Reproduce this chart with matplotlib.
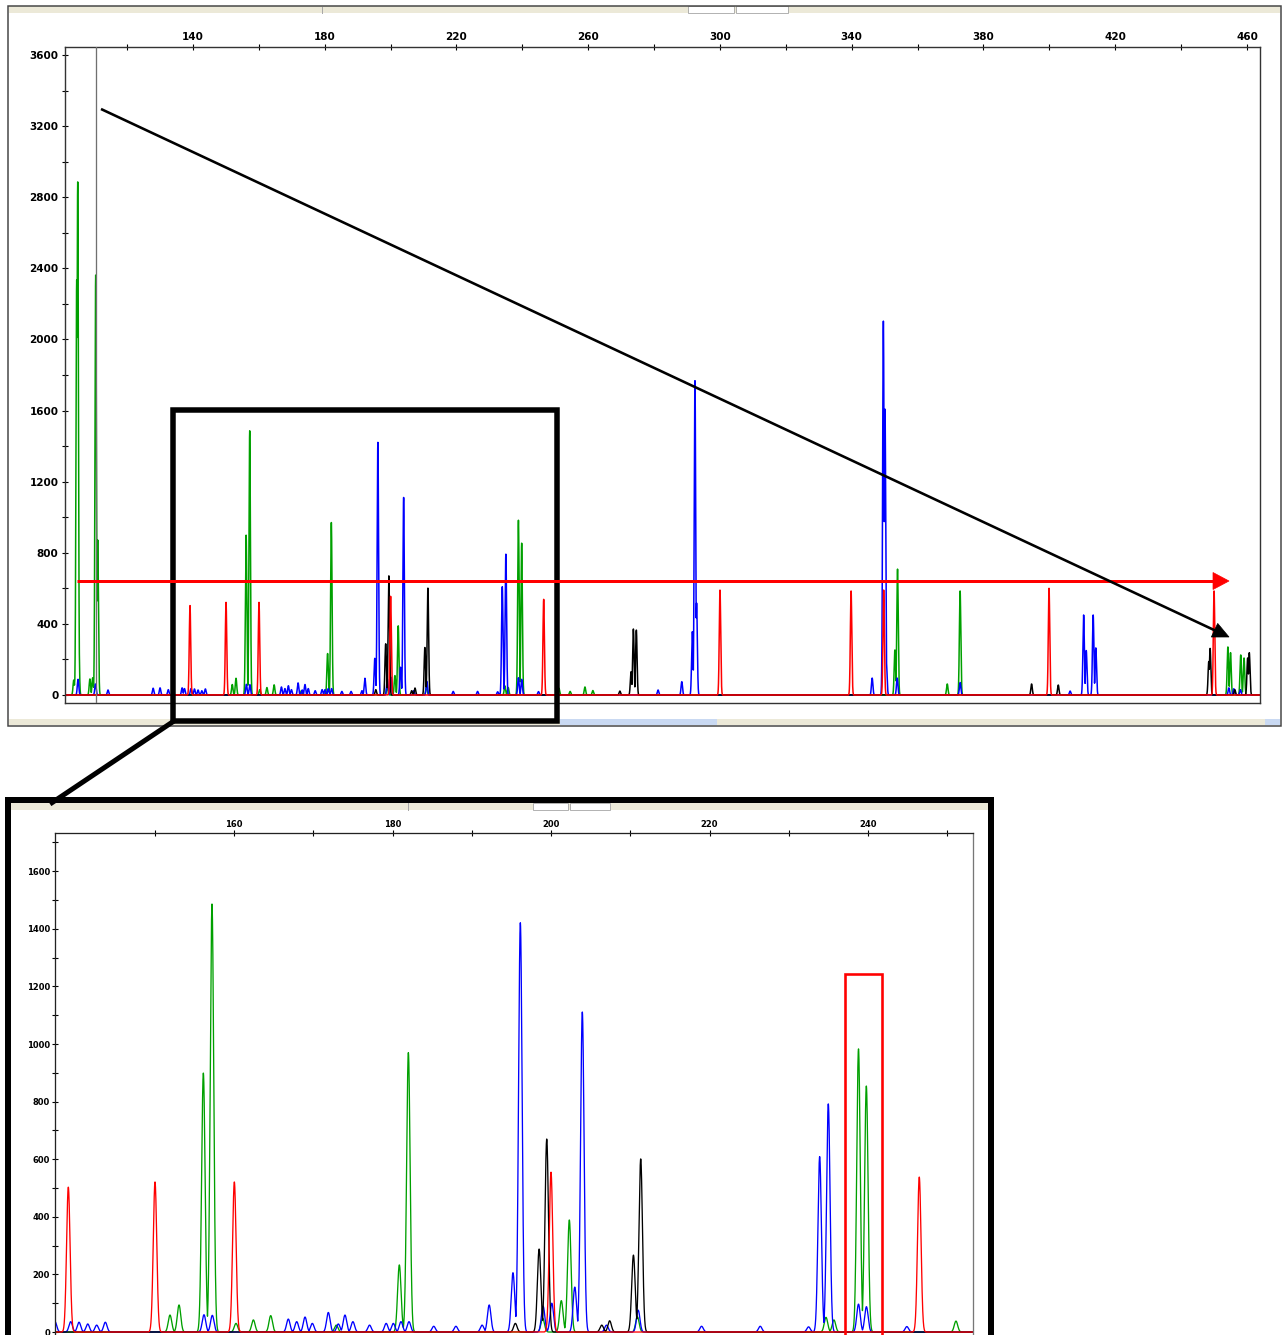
import numpy as np
import matplotlib
matplotlib.use("Agg")
import matplotlib.pyplot as plt
from matplotlib.lines import Line2D
from matplotlib.patches import Rectangle, Polygon

# ------------------------------------------------------------------ data
# Peak tables: fragment size (bp), height (RFU)
blue_bp = [105.1, 110.4, 114.2, 127.9, 130.0, 132.5, 136.7,
           137.41, 139.39, 140.44, 141.54, 142.67, 143.76,
           156.21, 157.26, 166.85, 167.91, 168.96, 169.88, 171.9, 173.16,
           174.0, 175.0, 177.1, 179.2, 180.1, 181.07, 182.08, 185.2, 188.0,
           191.3, 192.2, 195.2, 196.13, 199.0, 200.1, 203.0, 203.95, 207.0, 211.0,
           219.0, 226.4, 232.5, 233.9, 234.99, 238.8, 239.8, 244.9,
           281.2, 288.4, 291.6, 292.4, 292.9,
           346.2, 349.6, 350.1, 350.5, 353.8, 372.9, 406.3,
           410.4, 411.2, 413.3, 414.1, 454.5, 456.0, 458.0]
blue_rfu = [88, 62, 28, 38, 40, 30, 40,
            36, 36, 34, 28, 24, 34,
            60, 58, 45, 36, 52, 30, 68, 28,
            59, 36, 24, 30, 30, 36, 36, 20, 20,
            24, 94, 206, 1421, 90, 100, 156, 1111, 24, 76,
            20, 20, 18, 609, 792, 97, 88, 19,
            28, 75, 356, 1768, 517,
            95, 2103, 1608, 188, 95, 70, 22,
            450, 250, 450, 265, 40, 35, 30]

green_bp = [103.8, 104.2, 104.69, 105.0, 105.2, 108.7, 109.55, 110.46, 111.07,
            151.92, 153.06, 156.13, 157.22, 160.25, 162.44, 164.63,
            172.9, 180.86, 182.0, 198.95, 201.3, 202.31, 210.9,
            234.7, 235.7, 238.8, 239.79, 251.1,
            254.5, 259.0, 261.4,
            353.1, 353.9, 369.0, 372.9,
            454.2, 455.0, 458.1, 459.1]
green_rfu = [84, 84, 2334, 2886, 591, 90, 97, 2362, 872,
             59, 94, 899, 1486, 30, 42, 57,
             24, 233, 970, 48, 109, 389, 53,
             51, 42, 983, 854, 38,
             20, 45, 25,
             253, 708, 62, 585,
             270, 238, 225, 208]

black_bp = [195.5, 198.5, 199.46, 206.4, 207.4, 210.4, 211.32,
            269.6, 273.0, 273.7, 274.6,
            394.6, 402.7, 448.4, 448.8, 456.3, 460.2, 460.7]
black_rfu = [30, 288, 670, 24, 39, 267, 601,
             22, 131, 371, 365,
             62, 56, 188, 262, 30, 208, 238]

red_bp = [139.09, 150.03, 160.04, 200.0, 246.47, 300.0, 339.8, 349.7, 399.9, 450.0]
red_rfu = [503, 521, 521, 555, 538, 590, 585, 590, 600, 585]

# axis ticks / labels
top_xticks = [120, 140, 160, 180, 200, 220, 240, 260, 280, 300, 320, 340,
              360, 380, 400, 420, 440, 460]
top_xticklabels = ["", "140", "", "180", "", "220", "", "260", "", "300", "",
                   "340", "", "380", "", "420", "", "460"]
top_yticks = [0, 200, 400, 600, 800, 1000, 1200, 1400, 1600, 1800, 2000,
              2200, 2400, 2600, 2800, 3000, 3200, 3400, 3600]
top_yticklabels = ["0", "", "400", "", "800", "", "1200", "", "1600", "",
                   "2000", "", "2400", "", "2800", "", "3200", "", "3600"]
zoom_xticks = [150, 160, 170, 180, 190, 200, 210, 220, 230, 240, 250]
zoom_xticklabels = ["", "160", "", "180", "", "200", "", "220", "", "240", ""]
zoom_yticks = [0, 100, 200, 300, 400, 500, 600, 700, 800, 900, 1000, 1100,
               1200, 1300, 1400, 1500, 1600, 1700]
zoom_yticklabels = ["0", "", "200", "", "400", "", "600", "", "800", "",
                    "1000", "", "1200", "", "1400", "", "1600", ""]

cursor_bp = 110.7          # grey cursor line in the overview
box_bp = [237.14, 241.73]  # red highlight box in the zoom
box_rfu = 1243

# ------------------------------------------------------------------ helpers
W, H = 1282, 1335
fig = plt.figure(figsize=(W / 100, H / 100), dpi=100)
fig.patch.set_facecolor("white")


def fx(px):
    return px / W


def fy(py):
    return 1 - py / H


def pt(px):
    return px * 72 / 100


def trace(bp, rfu, x, sigma=0.22):
    y = np.zeros_like(x)
    for p, h in zip(bp, rfu):
        y = np.maximum(y, h * np.exp(-0.5 * ((x - p) / sigma) ** 2))
    return y


x = np.arange(100.0, 465.0, 0.01)
series = [("#00A000", green_bp, green_rfu),
          ("#0000FF", blue_bp, blue_rfu),
          ("#000000", black_bp, black_rfu),
          ("#FF0000", red_bp, red_rfu)]

TICKFONT = dict(fontweight="bold", family="DejaVu Sans")


def style_axes(ax, xt, xtl, yt, ytl, fs, xpad, ypad, tlen):
    ax.xaxis.set_ticks_position("top")
    ax.set_xticks(xt)
    ax.set_xticklabels(xtl, fontsize=fs, **TICKFONT)
    ax.set_yticks(yt)
    ax.set_yticklabels(ytl, fontsize=fs, **TICKFONT)
    ax.tick_params(axis="x", direction="inout", length=pt(tlen), width=pt(1.1),
                   pad=pt(xpad), top=True, bottom=False, labeltop=True,
                   labelbottom=False)
    ax.tick_params(axis="y", direction="inout", length=pt(tlen), width=pt(1.1),
                   pad=pt(ypad), left=True, right=False)


# ------------------------------------------------------------------ overview
ax1 = fig.add_axes([fx(65), fy(703), fx(1260) - fx(65), fy(47) - fy(703)])
ax1.set_xlim(101.14, 463.95)
ax1.set_ylim(-45, 3645)
for c, bp, rfu in series:
    ax1.plot(x, trace(bp, rfu, x), color=c, lw=1.1)
ax1.axvline(cursor_bp, color="#707070", lw=pt(1.3), zorder=5)
style_axes(ax1, top_xticks, top_xticklabels, top_yticks, top_yticklabels,
           7.5, 2.2, 3.5, 6)
for s in ax1.spines.values():
    s.set_color("#333333")
    s.set_linewidth(pt(1.4))

# ------------------------------------------------------------------ zoom
ax2 = fig.add_axes([fx(55), fy(1337.8), fx(973) - fx(55), fy(833) - fy(1337.8)])
ax2.set_xlim(137.41, 253.25)
ax2.set_ylim(-20, 1732.6)
for c, bp, rfu in series:
    ax2.plot(x, trace(bp, rfu, x), color=c, lw=0.95)
ax2.add_patch(Rectangle((box_bp[0], -20), box_bp[1] - box_bp[0], box_rfu + 20,
                        fill=False, ec="#FF0000", lw=pt(2.6), zorder=6))
style_axes(ax2, zoom_xticks, zoom_xticklabels, zoom_yticks, zoom_yticklabels,
           6.0, 1.2, 1.8, 6)
for name, s in ax2.spines.items():
    s.set_linewidth(pt(1.3))
    s.set_color("#222222" if name in ("left", "top") else "#777777")

# ------------------------------------------------------------------ decoration


def fline(pts, color, lw_px, **kw):
    fig.add_artist(Line2D([fx(p[0]) for p in pts], [fy(p[1]) for p in pts],
                          color=color, lw=pt(lw_px), transform=fig.transFigure,
                          **kw))


def frect(x0, y0, x1, y1, ec="none", fc="none", lw_px=1.0, z=1):
    fig.add_artist(Rectangle((fx(x0), fy(y1)), fx(x1) - fx(x0), fy(y0) - fy(y1),
                             transform=fig.transFigure, ec=ec, fc=fc,
                             lw=pt(lw_px), zorder=z))


def farrow(p0, p1, color, lw_px, head_len, head_w):
    p0 = np.array(p0, float)
    p1 = np.array(p1, float)
    d = p1 - p0
    u = d / np.hypot(*d)
    n = np.array([-u[1], u[0]])
    base = p1 - u * head_len
    fline([p0, base + u * 2], color, lw_px, solid_capstyle="butt", zorder=3)
    tri = [p1, base + n * head_w / 2, base - n * head_w / 2]
    fig.add_artist(Polygon([(fx(a), fy(b)) for a, b in tri], closed=True,
                           transform=fig.transFigure, fc=color, ec=color,
                           lw=0.5, zorder=3))


# overview window: frame, title strip, scroll strip
frect(8.5, 6.5, 1279.5, 12.5, fc="#ECE9D8", z=1)
frect(688, 6.5, 734, 12.5, fc="white", ec="#A0A0A0", lw_px=0.8, z=1)
frect(735.5, 6.5, 788, 12.5, fc="white", ec="#A0A0A0", lw_px=0.8, z=1)
fline([(322, 6.5), (322, 12.5)], "#A8A8A8", 1)
frect(8.5, 718.5, 1279.5, 724.5, fc="#ECE9D8", z=1)
frect(560, 718.5, 717, 724.5, fc="#C9D9F2", z=1)
frect(1265, 718.5, 1279.5, 724.5, fc="#C9D9F2", z=1)
frect(7.5, 5.5, 1280.5, 725.5, ec="#444444", lw_px=1.5, z=2)

# zoom window: thick frame, title strip
frect(11, 803, 988, 810, fc="#ECE9D8", z=1)
frect(533, 803, 568, 810, fc="white", ec="#A0A0A0", lw_px=0.8, z=1)
frect(570, 803, 610, 810, fc="white", ec="#A0A0A0", lw_px=0.8, z=1)
fline([(408, 803), (408, 810)], "#A8A8A8", 1)
frect(8, 800, 991, 1400, ec="black", lw_px=6, z=2)

# zoom region marker and connector
frect(173, 409.5, 557, 721, ec="black", lw_px=5.5, z=2)
fline([(174, 721), (50, 804)], "black", 5, solid_capstyle="butt", zorder=3)

# annotation arrows
farrow((77, 581), (1229, 581), "#FF0000", 3, 16, 17)
farrow((101, 109), (1229, 637), "black", 2.6, 16, 15)

fig.savefig("out.png", dpi=100, facecolor="white")
